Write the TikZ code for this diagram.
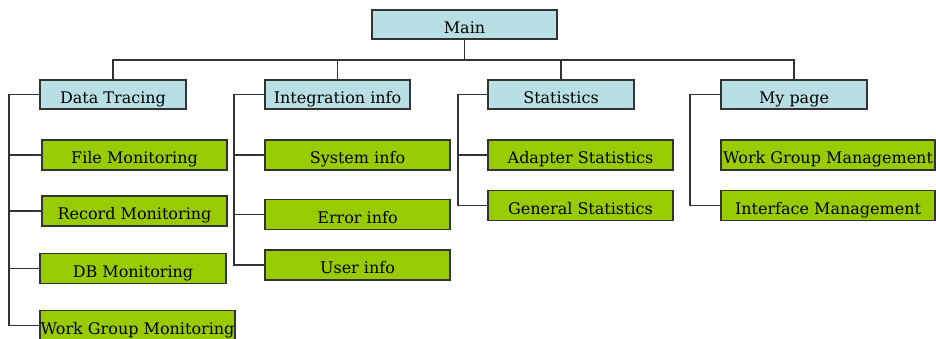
\documentclass[tikz,border=0pt]{standalone}
\usepackage{fontspec}
\setmainfont{DejaVu Serif}
\definecolor{headblue}{HTML}{B8DFE4}
\definecolor{leafgreen}{HTML}{99CC00}
\definecolor{edgegray}{HTML}{333333}
\tikzset{
  box/.style={draw=edgegray, line width=1.3pt, inner sep=0pt, minimum height=29,
    text height=17.6pt, text depth=0pt, font=\fontsize{16}{18}\selectfont},
  head/.style={box, fill=headblue, minimum width=146},
  leaf/.style={box, fill=leafgreen, minimum height=30, minimum width=185},
  link/.style={draw=edgegray, line width=1.5pt}
}
\begin{document}
\begin{tikzpicture}[x=1pt, y=-1pt]
        \useasboundingbox (0, 0) rectangle (936, 338);

        %Topo
        \node[head, minimum width=185] (main) at (464.5, 24.5) {Main};

        %Segundo nivel
        \node[head] (dt) at (113, 94.5) {Data Tracing};
        \node[head, minimum width=145] (ii) at (337.5, 94.5) {Integration info};
        \node[head] (st) at (561, 94.5) {Statistics};
        \node[head] (mp) at (794, 94.5) {My page};

        %Folhas
        \node[leaf] (fm) at (134.5, 155) {File Monitoring};
        \node[leaf] (rm) at (134.5, 211) {Record Monitoring};
        \node[leaf, minimum width=186] (dbm) at (133, 268.5) {DB Monitoring};
        \node[leaf, minimum width=195] (wgmo) at (137.5, 325.5) {Work Group Monitoring};

        \node[leaf] (si) at (357.5, 155) {System info};
        \node[leaf] (ei) at (357.5, 214.5) {Error info};
        \node[leaf] (ui) at (357.5, 265) {User info};

        \node[leaf] (as) at (580.5, 155) {Adapter Statistics};
        \node[leaf] (gs) at (580.5, 205.5) {General Statistics};

        \node[leaf, minimum width=214] (wgma) at (828, 155) {Work Group Management};
        \node[leaf, minimum width=214] (im) at (828, 205.5) {Interface Management};

        %Barramentos
        \coordinate (hub) at (464.5, 60);
        \coordinate (dtl) at (9, 0);
        \coordinate (iil) at (234, 0);
        \coordinate (stl) at (458, 0);
        \coordinate (mpl) at (690, 0);

        %Linhas
        \draw[link] (main.south) -- (hub);
        \foreach \n in {dt, ii, st, mp}
            \draw[link] (hub) -| (\n.north);

        \draw[link] (dt.west) -| (dtl |- wgmo.west) -- (wgmo.west);
        \foreach \n in {fm, rm, dbm}
            \draw[link] (dtl |- \n.west) -- (\n.west);

        \draw[link] (ii.west) -| (iil |- ui.west) -- (ui.west);
        \foreach \n in {si, ei}
            \draw[link] (iil |- \n.west) -- (\n.west);

        \draw[link] (st.west) -| (stl |- gs.west) -- (gs.west);
        \draw[link] (stl |- as.west) -- (as.west);

        \draw[link] (mp.west) -| (mpl |- im.west) -- (im.west);

    \end{tikzpicture}
\end{document}
